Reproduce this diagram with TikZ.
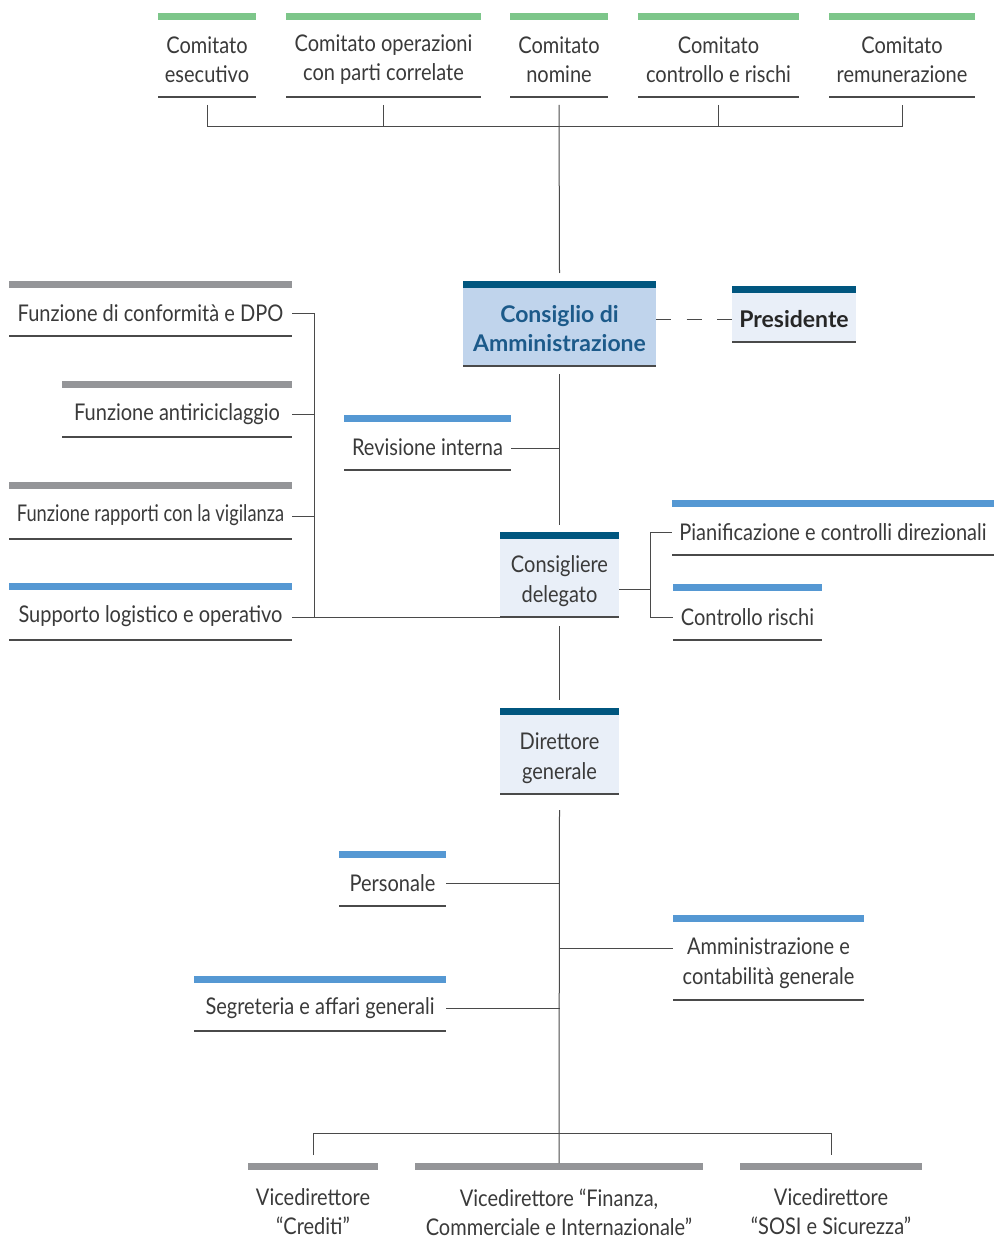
\documentclass[tikz,border=0pt]{standalone}
\usepackage{fontspec}
\setmainfont[FakeStretch=0.87]{Lato}
\newfontfamily\narrowfont[FakeStretch=0.795]{Lato}
\newfontfamily\widefont{Lato}
\definecolor{txtgray}{HTML}{3A3A3A}
\definecolor{grnbar}{HTML}{7DC68A}
\definecolor{blubar}{HTML}{5598D3}
\definecolor{grybar}{HTML}{949598}
\definecolor{drkbar}{HTML}{00567F}
\definecolor{cdafill}{HTML}{C0D4EC}
\definecolor{lfill}{HTML}{E9EFF8}
\definecolor{cdatext}{HTML}{1C5A8A}
\definecolor{rulec}{HTML}{4A4A4A}
\tikzset{
  txt/.style={inner sep=0pt, align=center, text=txtgray, font=\fontsize{23}{29}\selectfont},
  conn/.style={draw=rulec, line width=1pt},
  rulel/.style={draw=rulec, line width=1.3pt},
  dashconn/.style={conn, dash pattern=on 15pt off 15.5pt}
}
% #1 opts, #2 name, #3 x1, #4 x2, #5 bar top, #6 rule y, #7 bar colour, #8 fill, #9 text
\newcommand\ubox[9][]{%
  \fill[#7] (#3,#5) rectangle (#4,#5+7);
  \fill[#8] (#3,#5+7) rectangle (#4,#6);
  \draw[rulel] (#3,#6) -- (#4,#6);
  \node[txt, minimum width={#4-#3}, minimum height={#6-#5-7}, #1] (#2) at ({(#3+#4)/2},{(#5+7+#6)/2+1.5}) {#9};
}
\begin{document}
\begin{tikzpicture}[x=1pt,y=-1pt]
\useasboundingbox (0,0) rectangle (994,1246);
% committees
\ubox{ce}{158}{256}{13}{97}{grnbar}{white}{Comitato\\esecutivo}
\ubox{cop}{286}{481}{13}{97}{grnbar}{white}{Comitato operazioni\\con parti correlate}
\ubox{cn}{510}{608}{13}{97}{grnbar}{white}{Comitato\\nomine}
\ubox{ccr}{638}{799}{13}{97}{grnbar}{white}{Comitato\\controllo e rischi}
\ubox{crem}{829}{975}{13}{97}{grnbar}{white}{Comitato\\remunerazione}
% board
\ubox[font=\fontsize{23}{29}\widefont\bfseries, text=cdatext]{cda}{463}{656}{281}{366}{drkbar}{cdafill}{Consiglio di\\Amministrazione}
\ubox[font=\fontsize{23}{29}\widefont\bfseries, text=black!85]{pres}{732}{856}{286}{342}{drkbar}{lfill}{Presidente}
% left functions
\ubox{fdpo}{9}{292}{281}{336}{grybar}{white}{Funzione di conformità e DPO}
\ubox{far}{62}{292}{381}{437}{grybar}{white}{Funzione antiriciclaggio}
\ubox[font=\fontsize{23}{29}\narrowfont]{frv}{9}{292}{482}{539}{grybar}{white}{Funzione rapporti con la vigilanza}
\ubox{slo}{9}{292}{583}{640}{blubar}{white}{Supporto logistico e operativo}
\ubox{ri}{344}{511}{415}{470}{blubar}{white}{Revisione interna}
% CEO
\ubox[font=\fontsize{23}{30}\selectfont, yshift=-2pt]{cd}{500}{619}{532}{617}{drkbar}{lfill}{Consigliere\\delegato}
\ubox{pcd}{672}{994}{500}{555}{blubar}{white}{Pianificazione e controlli direzionali}
\ubox{cr}{673}{822}{584}{640}{blubar}{white}{Controllo rischi}
% DG
\ubox[font=\fontsize{23}{30}\selectfont, yshift=-2pt]{dg}{500}{619}{708}{794}{drkbar}{lfill}{Direttore\\generale}
\ubox{pers}{339}{446}{851}{906}{blubar}{white}{Personale}
\ubox[font=\fontsize{23}{30}\selectfont, yshift=-1pt]{amm}{673}{864}{915}{1000}{blubar}{white}{Amministrazione e\\contabilità generale}
\ubox{seg}{194}{446}{976}{1031}{blubar}{white}{Segreteria e affari generali}
% vice directors
\fill[grybar] (248,1163) rectangle (378,1170);
\fill[grybar] (415,1163) rectangle (703,1170);
\fill[grybar] (740,1163) rectangle (922,1170);
\coordinate (vcb) at (313,1163);
\coordinate (vfb) at (559,1163);
\coordinate (vsb) at (831,1163);
\node[txt] (vc) at (313,1212) {Vicedirettore\\“Crediti”};
\node[txt] (vf) at (559,1212) {Vicedirettore “Finanza,\\Commerciale e Internazionale”};
\node[txt] (vs) at (831,1212) {Vicedirettore\\“SOSI e Sicurezza”};
% connectors top
\coordinate (bus) at (559,127);
\draw[conn] (ce.south |- 0,105) -- (ce.south |- bus) -- (crem.south |- bus) -- (crem.south |- 0,105);
\draw[conn] (cop.south |- 0,105) -- (cop.south |- bus);
\draw[conn] (ccr.south |- 0,105) -- (ccr.south |- bus);
\draw[conn] (cn.south |- 0,105) -- (cda.north |- 0,273);
\draw[dashconn] (cda.east |- 0,319) -- (pres.west |- 0,319);
\draw[conn] (cda.south |- 0,374) -- (cd.north |- 0,525);
\draw[conn] (ri.east |- 0,448) -- (cda.south |- 0,448);
% left bracket
\coordinate (lb) at (314,617);
\draw[conn] (fdpo.east |- 0,313) -- (lb |- 0,313) -- (lb);
\draw[conn] (far.east |- 0,414) -- (lb |- 0,414);
\draw[conn] (frv.east |- 0,516) -- (lb |- 0,516);
\draw[conn] (slo.east |- lb) -- (cd.west |- lb);
% right bracket
\coordinate (rb) at (650,589);
\draw[conn] (cd.east |- rb) -- (rb);
\draw[conn] (pcd.west |- 0,532) -| (rb) |- (cr.west |- 0,617);
% CD to DG
\draw[conn] (cd.south |- 0,626) -- (dg.north |- 0,700);
\draw[conn] (dg.south |- 0,810) -- (vfb);
\draw[conn] (pers.east |- 0,883) -- (dg.south |- 0,883);
\draw[conn] (amm.west |- 0,948) -- (dg.south |- 0,948);
\draw[conn] (seg.east |- 0,1008) -- (dg.south |- 0,1008);
\coordinate (bb) at (559,1133);
\draw[conn] ([yshift=8pt]vcb) -- (vcb |- bb) -- (vsb |- bb) -- ([yshift=8pt]vsb);
\end{tikzpicture}
\end{document}
